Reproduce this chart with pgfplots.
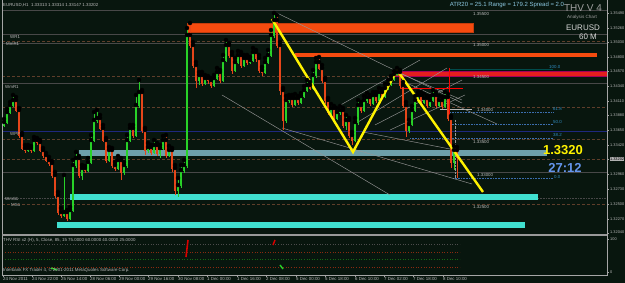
\documentclass[border=0pt]{standalone}
\usepackage{pgfplots}
\pgfplotsset{compat=1.18}
\usepackage{pgfplotstable}
\usepackage{fontspec}
\setmainfont{Liberation Sans}

\definecolor{bg}{RGB}{8,22,14}
\definecolor{cgreen}{RGB}{40,210,40}
\definecolor{cred}{RGB}{230,70,26}
\definecolor{oband}{RGB}{245,75,15}
\definecolor{rband}{RGB}{228,30,30}
\definecolor{tband}{RGB}{110,160,170}
\definecolor{turq}{RGB}{64,224,208}
\definecolor{pgray}{RGB}{72,72,72}
\definecolor{pbrown}{RGB}{95,62,42}
\definecolor{pnavy}{RGB}{30,40,125}
\definecolor{tgray}{RGB}{150,150,150}
\definecolor{fibc}{RGB}{60,110,175}
\definecolor{txt}{RGB}{185,185,185}
\definecolor{atr}{RGB}{140,200,225}
\definecolor{blue27}{RGB}{100,149,237}

\tikzset{mt/.style={font=\fontsize{4.4}{5}\selectfont, text=txt, inner sep=0pt},
         pl/.style={font=\fontsize{3.9}{4.5}\selectfont, text=txt, inner sep=0pt, anchor=west}}

% candles in chart pixel units: x, open, close, high, low (y grows downward)
\pgfplotstableread{
x o c h l
4 125 122 119 127
7 122 112 109 124
10 112 105 102 114
13 105 100 95 107
28 150 148 145 152
34 150 140 137 152
64 215 212 175 217
70 218 210 207 220
73 210 165 160 212
76 165 158 152 168
82 175 168 165 180
88 170 162 158 172
91 162 140 135 164
94 140 120 112 142
97 120 118 110 123
109 160 150 147 162
118 168 160 156 170
124 172 165 162 175
127 165 140 135 168
130 140 128 125 142
136 135 105 95 137
139 105 92 80 108
148 150 147 143 153
154 152 145 140 154
160 153 148 145 158
163 148 140 136 150
169 155 150 146 157
178 190 185 178 197
181 185 170 165 188
184 170 165 160 173
187 165 35 28 168
199 80 75 72 85
205 83 78 75 85
214 85 78 75 87
217 78 72 68 80
223 80 60 55 82
226 60 45 40 62
235 70 62 58 72
238 62 55 51 64
244 65 58 55 67
250 62 60 57 64
253 60 52 48 62
265 72 62 58 74
268 62 55 50 64
271 55 35 30 57
274 35 20 13 38
286 120 100 96 123
289 100 98 95 103
295 104 98 94 106
301 102 96 93 104
304 96 90 86 98
307 90 85 80 92
313 88 75 70 90
316 75 62 58 78
331 112 108 104 115
337 118 112 108 120
340 112 110 106 115
346 125 120 115 130
355 140 122 118 142
358 122 105 100 125
364 110 100 96 112
367 100 97 93 103
373 103 95 92 105
379 100 92 88 102
385 96 88 84 98
388 88 84 80 90
391 84 79 76 86
394 79 74 71 81
397 74 72 68 76
409 130 124 120 133
412 124 110 106 126
415 110 100 96 112
418 100 95 92 103
424 102 98 94 104
430 105 100 96 107
433 100 95 90 102
439 105 100 96 107
445 106 97 92 108
454 162 150 146 170
}\upc

\pgfplotstableread{
x o c h l
16 100 110 97 112
19 110 135 108 138
22 135 148 133 150
25 148 150 145 153
31 148 150 146 153
37 140 142 138 145
40 142 150 140 152
43 150 155 148 158
46 155 160 153 162
49 160 163 157 166
52 163 175 161 178
55 175 195 172 198
58 195 212 192 215
61 212 215 208 218
67 212 218 210 221
79 158 175 156 178
85 168 170 166 173
100 118 128 115 130
103 128 140 125 142
106 140 160 138 163
112 150 165 148 168
115 165 168 162 171
121 160 172 158 180
133 128 135 125 138
142 92 130 90 133
145 130 150 128 155
151 147 152 145 155
157 145 153 143 156
166 140 155 135 158
172 150 168 148 172
175 168 190 165 195
190 35 45 23 48
193 45 65 42 68
196 65 80 62 88
202 75 83 72 86
208 78 80 76 84
211 80 85 78 88
220 72 80 70 83
229 45 55 43 58
232 55 70 52 74
241 55 65 52 68
247 58 62 55 65
256 52 58 50 62
259 58 70 55 73
262 70 72 67 76
277 20 45 15 48
280 45 90 42 95
283 90 120 88 130
292 98 104 95 107
298 98 102 96 105
310 85 88 82 90
319 62 68 57 70
322 68 80 65 83
325 80 100 78 104
328 100 112 98 115
334 108 118 106 121
343 110 125 108 128
349 120 135 118 138
352 135 140 132 145
361 105 110 102 113
370 97 103 95 106
376 95 100 92 103
382 92 96 89 99
400 72 85 70 88
403 85 105 82 108
406 105 130 102 137
421 95 102 92 105
427 98 105 96 108
436 95 105 92 108
442 100 106 97 109
448 97 118 94 121
451 118 162 116 168
457 150 157 147 178
}\dnc

\begin{document}
\begin{tikzpicture}
\begin{axis}[
  width=625pt, height=283pt, scale only axis,
  xmin=0, xmax=625, ymin=0, ymax=283, y dir=reverse,
  hide axis, clip=true,
]
% background
\addplot[fill=bg, draw=none, forget plot] coordinates {(0,0) (625,0) (625,283) (0,283)} --cycle;

% pivot / grid lines
\addplot[pgray, line width=0.5pt] coordinates {(2,10) (607,10)};
\addplot[pgray, line width=0.6pt] coordinates {(2,34) (607,34)};
\addplot[pbrown, densely dashed, line width=0.5pt] coordinates {(2,41) (607,41)};
\addplot[pgray, line width=0.6pt] coordinates {(2,43) (607,43)};
\addplot[pbrown, densely dashed, line width=0.5pt] coordinates {(2,76) (607,76)};
\addplot[pgray, line width=0.6pt] coordinates {(2,83) (607,83)};
\addplot[pbrown, densely dashed, line width=0.5pt] coordinates {(2,107) (607,107)};
\addplot[pnavy, line width=0.7pt] coordinates {(2,131) (607,131)};
\addplot[pbrown, densely dashed, line width=0.5pt] coordinates {(2,139) (607,139)};
\addplot[pbrown, densely dashed, line width=0.5pt] coordinates {(2,159) (607,159)};
\addplot[pgray, line width=0.6pt] coordinates {(2,172) (607,172)};
\addplot[pgray, densely dotted, line width=0.6pt] coordinates {(2,198) (607,198)};
\addplot[pbrown, densely dashed, line width=0.5pt] coordinates {(2,204) (607,204)};

% zones
\addplot[fill=oband, draw=oband!80!black, line width=0.3pt] coordinates {(187,23) (473,23) (473,32) (187,32)} --cycle;
\addplot[fill=oband, draw=none] coordinates {(295,53) (597,53) (597,57) (295,57)} --cycle;
\addplot[fill=rband, draw=violet!70!red, line width=0.4pt] coordinates {(392,71) (607,71) (607,76) (392,76)} --cycle;
\addplot[fill=tband, draw=none] coordinates {(79,150) (547,150) (547,156) (79,156)} --cycle;
\addplot[fill=turq, draw=none] coordinates {(70,194) (538,194) (538,200) (70,200)} --cycle;
\addplot[fill=turq, draw=none] coordinates {(57,222) (525,222) (525,228) (57,228)} --cycle;

% fib levels
\addplot[teal!60!black, line width=0.7pt] coordinates {(449,69) (553,69)};
\addplot[fibc, densely dotted, line width=0.6pt] coordinates {(447,112) (553,112)};
\addplot[fibc, densely dotted, line width=0.6pt] coordinates {(450,124) (553,124)};
\addplot[fibc, densely dotted, line width=0.6pt] coordinates {(410,138) (553,138)};
\addplot[fibc, densely dotted, line width=0.6pt] coordinates {(453,178) (553,178)};
\addplot[tgray, densely dotted, line width=0.4pt] coordinates {(455,120) (455,178)};
\addplot[tgray!70, line width=1pt] coordinates {(440,110) (472,110)};

% trend / channel lines
\addplot[tgray, line width=0.45pt] coordinates {(277,13) (462,103)};
\addplot[tgray, line width=0.45pt] coordinates {(222,95) (390,195)};
\addplot[tgray, line width=0.45pt] coordinates {(282,128) (472,184)};
\addplot[tgray, line width=0.45pt] coordinates {(363,132) (455,150)};
\addplot[tgray, line width=0.45pt] coordinates {(337,107) (420,60)};
\addplot[tgray, line width=0.45pt] coordinates {(358,122) (447,68)};
\addplot[tgray, line width=0.45pt] coordinates {(375,125) (462,80)};
\addplot[tgray, line width=0.45pt] coordinates {(390,130) (465,95)};
\addplot[tgray, line width=0.45pt] coordinates {(397,72) (462,100)};
\addplot[tgray, line width=0.45pt] coordinates {(400,80) (497,124)};
\addplot[red, line width=0.6pt] coordinates {(400,88) (463,88)};
\addplot[red, line width=0.6pt] coordinates {(449,68) (449,118)};

% candles: wicks and bodies
\addplot[only marks, mark=none, error bars/.cd, y dir=plus, y explicit, error mark=none,
  error bar style={draw=cgreen, line width=0.6pt}]
  table[x=x, y=h, y error plus expr={\thisrow{l}-\thisrow{h}}] {\upc};
\addplot[only marks, mark=none, error bars/.cd, y dir=plus, y explicit, error mark=none,
  error bar style={draw=cgreen, line width=1.7pt}]
  table[x=x, y expr={min(\thisrow{o},\thisrow{c})}, y error plus expr={abs(\thisrow{o}-\thisrow{c})+0.8}] {\upc};
\addplot[only marks, mark=none, error bars/.cd, y dir=plus, y explicit, error mark=none,
  error bar style={draw=cred, line width=0.6pt}]
  table[x=x, y=h, y error plus expr={\thisrow{l}-\thisrow{h}}] {\dnc};
\addplot[only marks, mark=none, error bars/.cd, y dir=plus, y explicit, error mark=none,
  error bar style={draw=cred, line width=1.7pt}]
  table[x=x, y expr={min(\thisrow{o},\thisrow{c})}, y error plus expr={abs(\thisrow{o}-\thisrow{c})+0.8}] {\dnc};

% yellow zigzag
\addplot[yellow, line width=2.4pt] coordinates {(272,19) (353,152) (397,70) (483,192)};

% frames
\addplot[gray!70, line width=0.6pt] coordinates {(2,0) (2,275) (607,275) (607,0)};
\addplot[gray!80, line width=1.6pt] coordinates {(2,235) (607,235)};

% indicator panel
\addplot[gray!60!black, dotted, line width=0.6pt] coordinates {(5,244) (460,244)};
\addplot[cred!60!black, dotted, line width=0.6pt] coordinates {(5,252) (460,252)};
\addplot[cgreen!50!black, dotted, line width=0.6pt] coordinates {(5,259) (460,259)};
\addplot[cred!60!black, dotted, line width=0.6pt] coordinates {(5,267) (460,267)};
\addplot[red!85!black, line width=1.6pt] coordinates {(188,240) (186,257)};
\addplot[red!85!black, line width=1.4pt] coordinates {(275,240) (273,245)};
\addplot[cgreen, line width=1.4pt] coordinates {(51,268) (57,270)};
\addplot[cgreen, line width=1.4pt] coordinates {(280,265) (283,269)};

% time ticks
\pgfplotsinvokeforeach{3,32,61,90,119,148,178,207,237,266,296,325,355,384,413,443}{
  \draw[gray!70, line width=0.4pt] (axis cs:#1,275) -- (axis cs:#1,277.5);
}
\pgfplotsinvokeforeach{13,28,42,57,71,86,101,115,130,145,159,174,189,204,219,233,239,272}{
  \draw[gray!70, line width=0.4pt] (axis cs:607,#1) -- (axis cs:609,#1);
}

% texts
\node[mt, anchor=west] at (axis cs:3,5) {EURUSD,H1\ \ 1.33313 1.33314 1.33147 1.33202};
\node[font=\fontsize{6}{7}\selectfont, text=atr, inner sep=0pt] at (axis cs:507,5) {ATR20 = 25.1 Range = 179.2 Spread = 2.0};
\node[font=\fontsize{10}{11}\selectfont, text=gray!75, inner sep=0pt] at (axis cs:583,8.5) {THV V 4};
\node[font=\fontsize{4.6}{5}\selectfont, text=gray!75, inner sep=0pt] at (axis cs:582,17) {Analysis Chart};
\node[font=\fontsize{8}{9}\selectfont, text=gray!30, inner sep=0pt] at (axis cs:583,28) {EURUSD};
\node[font=\fontsize{8}{9}\selectfont, text=gray!30, inner sep=0pt] at (axis cs:588,37) {60 M};

\node[mt, anchor=west] at (axis cs:10,37) {WR1};
\node[mt, anchor=west] at (axis cs:6,44) {MmR1};
\node[mt, anchor=west] at (axis cs:5,87) {WmR1};
\node[mt, anchor=west] at (axis cs:10,134) {WPP};
\node[mt, anchor=west] at (axis cs:5,199) {WmS1};
\node[mt, anchor=west] at (axis cs:11,205) {MS1};

\node[mt, anchor=west] at (axis cs:473,14) {1.35500};
\node[mt, anchor=west] at (axis cs:473,45) {1.35000};
\node[mt, anchor=west] at (axis cs:473,77) {1.34500};
\node[mt, anchor=west] at (axis cs:477,110) {1.34000};
\node[mt, anchor=west] at (axis cs:473,142) {1.33500};
\node[mt, anchor=west] at (axis cs:477,175) {1.33000};
\node[mt, anchor=west] at (axis cs:473,207) {1.32500};

\node[mt, text=fibc!80!cyan, anchor=west] at (axis cs:549,67) {100.0};
\node[mt, text=fibc!80!cyan, anchor=west] at (axis cs:553,109) {61.8};
\node[mt, text=fibc!80!cyan, anchor=west] at (axis cs:553,122) {50.0};
\node[mt, text=fibc!80!cyan, anchor=west] at (axis cs:553,135) {38.2};
\node[mt, text=fibc!80!cyan, anchor=west] at (axis cs:554,177) {0.0};

\node[font=\bfseries\fontsize{13}{14}\selectfont, text=yellow, inner sep=0pt] at (axis cs:563,150) {1.3320};
\node[font=\bfseries\fontsize{13}{14}\selectfont, text=blue27, inner sep=0pt] at (axis cs:565,168) {27:12};

% right price scale
\node[pl] at (axis cs:610,13) {1.35490};
\node[pl] at (axis cs:610,28) {1.35260};
\node[pl] at (axis cs:610,42) {1.35030};
\node[pl] at (axis cs:610,57) {1.34800};
\node[pl] at (axis cs:610,71) {1.34570};
\node[pl] at (axis cs:610,86) {1.34340};
\node[pl] at (axis cs:610,101) {1.34110};
\node[pl] at (axis cs:610,115) {1.33880};
\node[pl] at (axis cs:610,130) {1.33650};
\node[pl] at (axis cs:610,145) {1.33420};
\node[pl, text=black, fill=gray!60, inner sep=0.3pt] at (axis cs:609.5,159) {1.33202};
\node[pl] at (axis cs:610,174) {1.32960};
\node[pl] at (axis cs:610,189) {1.32730};
\node[pl] at (axis cs:610,204) {1.32500};
\node[pl] at (axis cs:610,219) {1.32270};
\node[pl] at (axis cs:610,232) {1.32040};
\node[pl] at (axis cs:610,239) {100};
\node[pl] at (axis cs:610,272) {0};

\node[mt, anchor=west] at (axis cs:3,240) {THV RSI x2 (H), 5, Close, 85, 15 75.0000 60.0000 40.0000 25.0000};
\node[mt, anchor=west] at (axis cs:3,270) {Interbank FX Trader 4, \textcopyright{} 2001-2011 MetaQuotes Software Corp.};

% time labels
\node[mt, anchor=west] at (axis cs:3,279) {24 Nov 2011};
\node[mt, anchor=west] at (axis cs:32,279) {24 Nov 22:00};
\node[mt, anchor=west] at (axis cs:61,279) {25 Nov 14:00};
\node[mt, anchor=west] at (axis cs:90,279) {28 Nov 06:00};
\node[mt, anchor=west] at (axis cs:119,279) {29 Nov 00:00};
\node[mt, anchor=west] at (axis cs:148,279) {29 Nov 16:00};
\node[mt, anchor=west] at (axis cs:178,279) {30 Nov 08:00};
\node[mt, anchor=west] at (axis cs:207,279) {1 Dec 00:00};
\node[mt, anchor=west] at (axis cs:237,279) {1 Dec 16:00};
\node[mt, anchor=west] at (axis cs:266,279) {2 Dec 08:00};
\node[mt, anchor=west] at (axis cs:296,279) {5 Dec 00:00};
\node[mt, anchor=west] at (axis cs:325,279) {5 Dec 18:00};
\node[mt, anchor=west] at (axis cs:355,279) {6 Dec 10:00};
\node[mt, anchor=west] at (axis cs:384,279) {7 Dec 02:00};
\node[mt, anchor=west] at (axis cs:413,279) {7 Dec 18:00};
\node[mt, anchor=west] at (axis cs:443,279) {8 Dec 10:00};
\end{axis}
\end{tikzpicture}
\end{document}
